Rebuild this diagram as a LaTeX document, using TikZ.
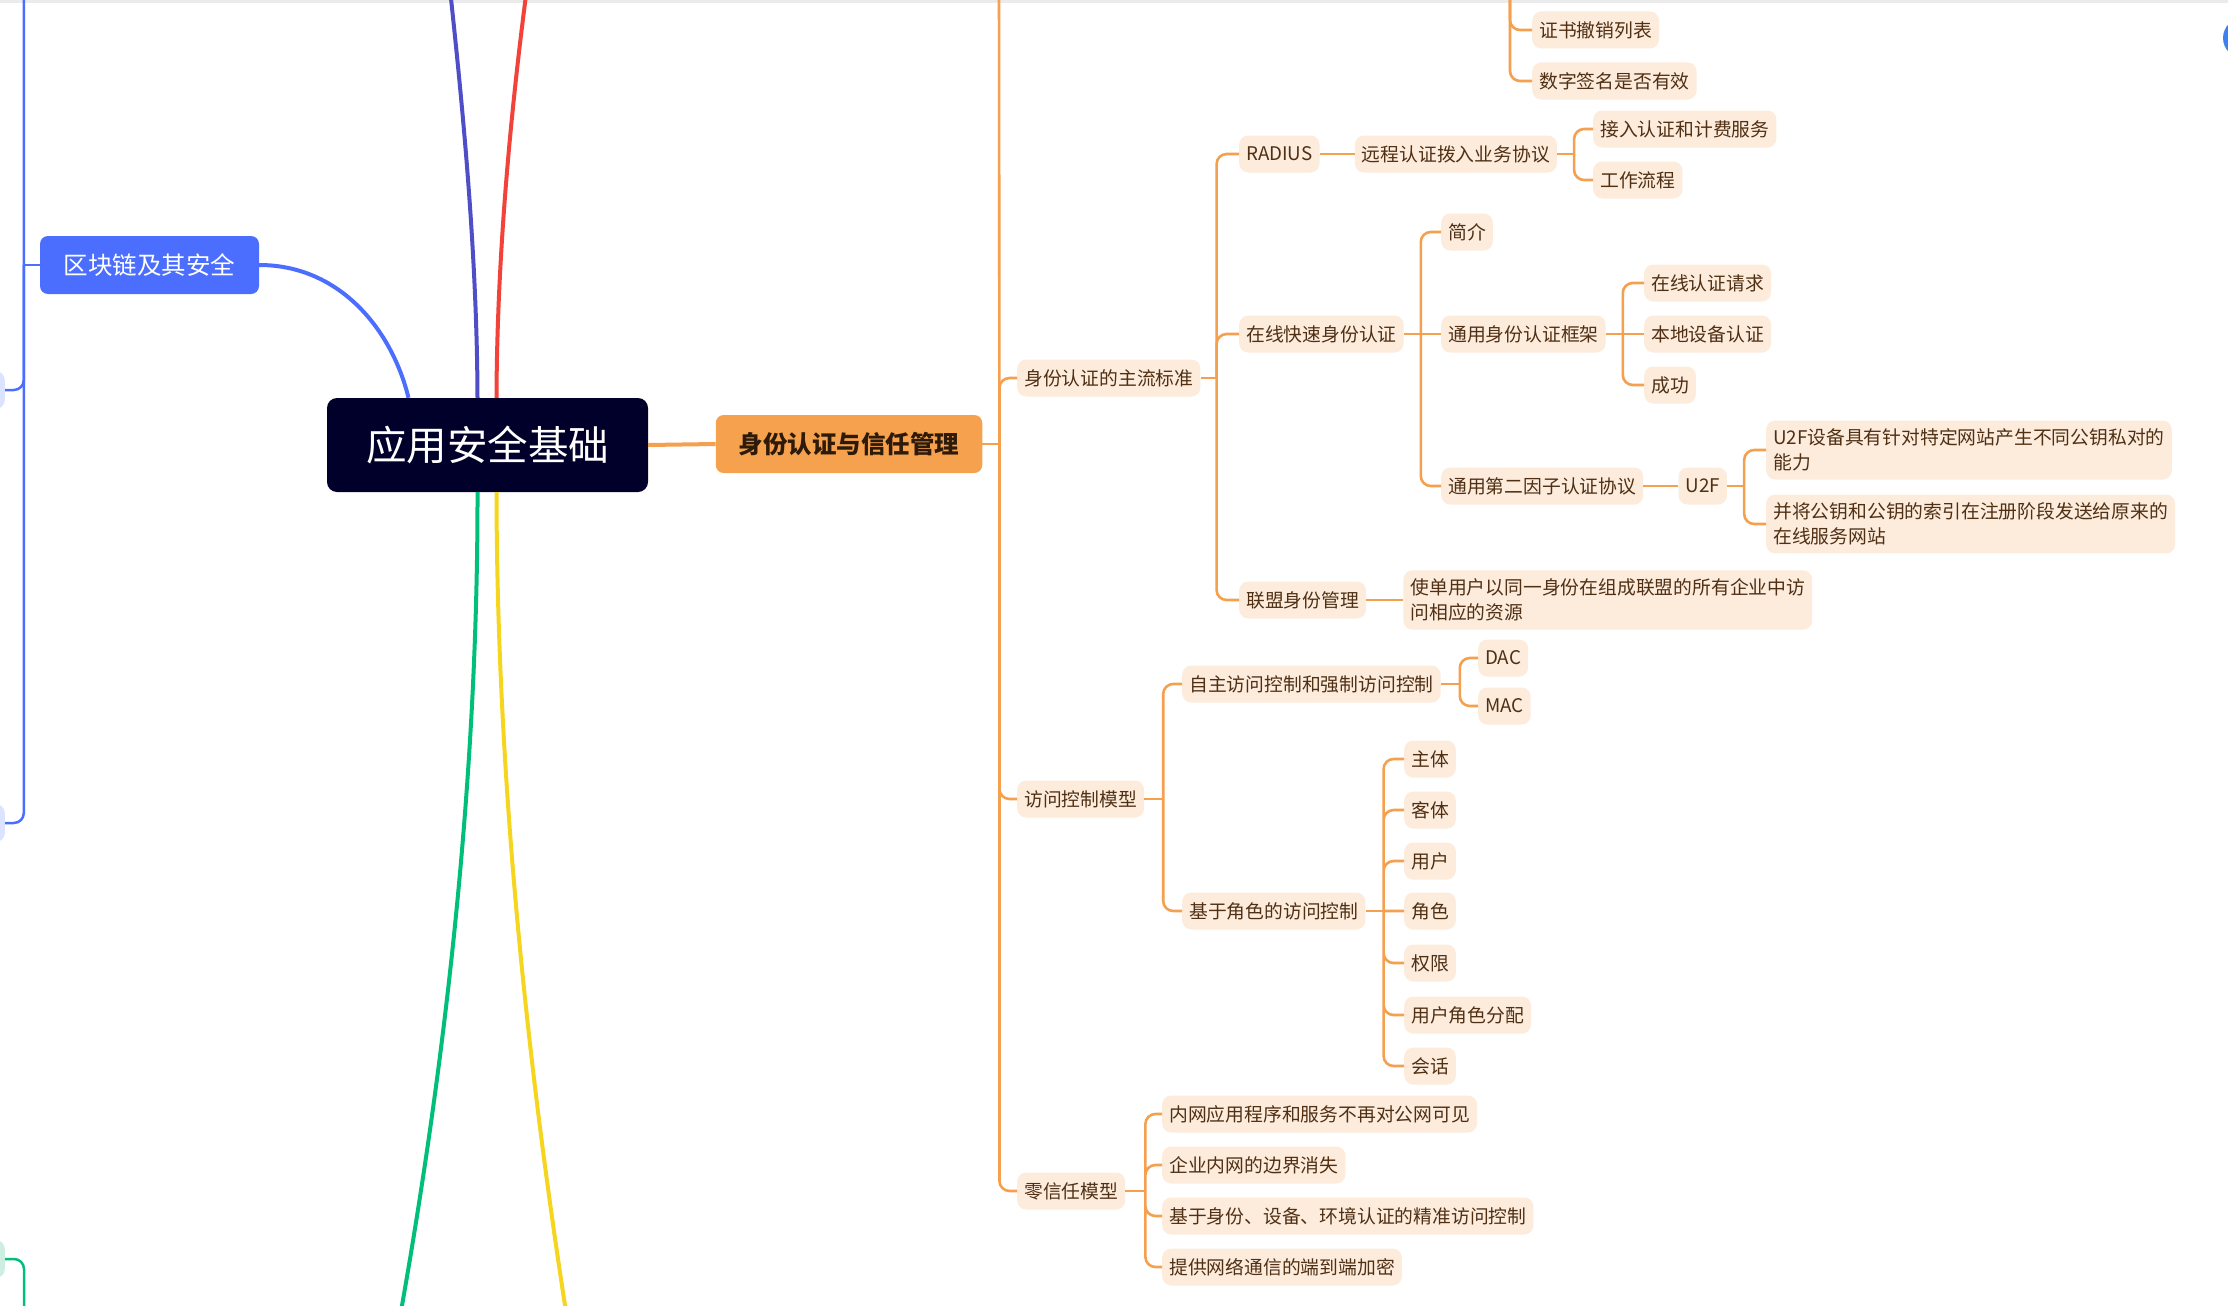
\documentclass[tikz,border=0pt]{standalone}
\usepackage{fontspec}
\setmainfont{Noto Sans CJK SC}
\usepackage{xcolor}
\usetikzlibrary{positioning}

\definecolor{rootbg}{HTML}{00002A}
\definecolor{chaintopic}{HTML}{4C6EFE}
\definecolor{idtopic}{HTML}{F6A14E}
\definecolor{idtext}{HTML}{2D1A08}
\definecolor{peach}{HTML}{FDEBDC}
\definecolor{subtext}{HTML}{4F3015}
\definecolor{oline}{HTML}{F5A04F}
\definecolor{lineindigo}{HTML}{4E4EC6}
\definecolor{linered}{HTML}{F2423A}
\definecolor{linegreen}{HTML}{00BF7A}
\definecolor{lineyellow}{HTML}{F6D51F}
\definecolor{lineblue}{HTML}{4C6EFE}
\definecolor{ghostblue}{HTML}{DCE3FF}
\definecolor{ghostgreen}{HTML}{CDEFE2}
\definecolor{dotblue}{HTML}{3F80F0}

\begin{document}
\begin{tikzpicture}[
  x=1pt, y=-1pt,
  root/.style={fill=rootbg, text=white, rounded corners=10pt, minimum width=321pt, minimum height=94pt, font=\fontsize{40.5}{48}\selectfont},
  topic/.style={rounded corners=8pt, inner xsep=23pt, minimum height=58pt, font=\fontsize{24.5}{30}\selectfont},
  sub/.style={fill=peach, text=subtext, rounded corners=9pt, inner xsep=7pt, inner ysep=8pt, minimum height=37pt, anchor=west, align=left, font=\fontsize{18.8}{25.5}\selectfont},
  ghost/.style={rounded corners=9pt, minimum width=60pt, minimum height=38pt, anchor=east},
  branch/.style={draw=oline, line width=2.6pt, rounded corners=10pt},
  curve/.style={line width=4pt},
  side/.style={line width=2.5pt, rounded corners=10pt}
]
\useasboundingbox (0,0) rectangle (2228,1306);
\clip (0,0) rectangle (2228,1306);
\fill[black!8] (0,0) rectangle (2228,3);
\fill[dotblue] (2243,38) circle (20);

% central topic and main topics
\node[root] (root) at (487.5,445) {应用安全基础};
\node[topic, fill=chaintopic, text=white, minimum width=219pt] (chain) at (149.5,265) {区块链及其安全};
\node[topic, fill=idtopic, text=idtext, minimum width=266pt, font=\fontsize{24.5}{30}\selectfont\bfseries] (idtrust) at (849,444) {身份认证与信任管理};

% topics that lie outside the view
\coordinate (indigoEnd) at (449,-20);
\coordinate (redEnd) at (528,-20);
\coordinate (greenEnd) at (394,1350);
\coordinate (yellowEnd) at (572,1350);
\node[ghost, fill=ghostblue] (b1) at (5,390) {};
\node[ghost, fill=ghostblue] (b2) at (5,823) {};
\node[ghost, fill=ghostgreen] (g1) at (5,1259) {};

\draw[curve, draw=lineindigo] ([xshift=-10pt]root.north) .. controls (477,250) and (462,100) .. (indigoEnd);
\draw[curve, draw=linered] ([xshift=9pt]root.north) .. controls (497,250) and (512,100) .. (redEnd);
\draw[curve, draw=linegreen] ([xshift=-10pt]root.south) .. controls (478,800) and (440,1100) .. (greenEnd);
\draw[curve, draw=lineyellow] ([xshift=9pt]root.south) .. controls (497,800) and (532,1100) .. (yellowEnd);
\draw[curve, draw=lineblue] (chain.east) .. controls (340,265) and (392,330) .. ([xshift=-79pt]root.north);
\draw[curve, draw=oline] (root.east) -- (idtrust.west);

% left side
\draw[side, draw=lineblue] (chain.west) -- ++(-16,0) coordinate (chainJ);
\coordinate (chainUp) at (24,-20);
\draw[side, draw=lineblue] (chainJ) -- (chainUp);
\draw[side, draw=lineblue] (chainJ) |- (b1.east);
\draw[side, draw=lineblue] (chainJ) |- (b2.east);
\coordinate (greenDown) at (24,1340);
\draw[side, draw=linegreen] (g1.east) -| (greenDown);

% identity and trust
\node[sub] (crl) at (1532,30) {证书撤销列表};
\node[sub] (sig) at (1532,81) {数字签名是否有效};
\node[sub] (std) at (1017,378) {身份认证的主流标准};
\node[sub] (acm) at (1017,799) {访问控制模型};
\node[sub] (zt) at (1017,1191) {零信任模型};

\node[sub] (radius) at (1239,154) {RADIUS};
\node[sub, right=35pt of radius] (rap) {远程认证拨入业务协议};
\node[sub] (aaa) at (1593,129) {接入认证和计费服务};
\node[sub] (flow) at (1593,180) {工作流程};
\node[sub] (fido) at (1239,334) {在线快速身份认证};
\node[sub] (intro) at (1441,232) {简介};
\node[sub] (uaf) at (1441,334) {通用身份认证框架};
\node[sub] (req) at (1644,283) {在线认证请求};
\node[sub] (local) at (1644,334) {本地设备认证};
\node[sub] (done) at (1644,385) {成功};
\node[sub] (utf) at (1441,486) {通用第二因子认证协议};
\node[sub, right=35pt of utf] (u2f) {U2F};
\node[sub] (keypair) at (1766,450) {U2F设备具有针对特定网站产生不同公钥私对的\\能力};
\node[sub] (keyreg) at (1766,524) {并将公钥和公钥的索引在注册阶段发送给原来的\\在线服务网站};
\node[sub] (fed) at (1239,600) {联盟身份管理};
\node[sub, right=37pt of fed] (feddesc) {使单用户以同一身份在组成联盟的所有企业中访\\问相应的资源};

\node[sub] (dacmac) at (1182,684) {自主访问控制和强制访问控制};
\node[sub] (dac) at (1478,658) {DAC};
\node[sub] (mac) at (1478,706) {MAC};
\node[sub] (rbac) at (1182,911) {基于角色的访问控制};
\node[sub] (subj) at (1404,759) {主体};
\node[sub] (obj) at (1404,810) {客体};
\node[sub] (user) at (1404,861) {用户};
\node[sub] (role) at (1404,911) {角色};
\node[sub] (perm) at (1404,963) {权限};
\node[sub] (ura) at (1404,1015) {用户角色分配};
\node[sub] (sess) at (1404,1066) {会话};

\node[sub] (zt1) at (1162,1114) {内网应用程序和服务不再对公网可见};
\node[sub] (zt2) at (1162,1165) {企业内网的边界消失};
\node[sub] (zt3) at (1162,1216) {基于身份、设备、环境认证的精准访问控制};
\node[sub] (zt4) at (1162,1267) {提供网络通信的端到端加密};

% connectors
\draw[branch] (idtrust.east) -- ++(17,0) coordinate (idJ);
\coordinate (idUp) at (999,-20);
\draw[branch] (idJ) -- (idUp);
\draw[branch] (idJ) |- (std.west);
\draw[branch] (idJ) |- (acm.west);
\draw[branch] (idJ) |- (zt.west);
\coordinate (certUp) at (1510,-20);
\draw[branch] (certUp) |- (crl.west);
\draw[branch] (certUp) |- (sig.west);

\draw[branch] (std.east) -- ++(16,0) coordinate (stdJ);
\draw[branch] (stdJ) |- (radius.west);
\draw[branch] (stdJ) |- (fido.west);
\draw[branch] (stdJ) |- (fed.west);
\draw[branch] (radius) -- (rap);
\draw[branch] (rap.east) -- ++(17,0) coordinate (rapJ);
\draw[branch] (rapJ) |- (aaa.west);
\draw[branch] (rapJ) |- (flow.west);
\draw[branch] (fido.east) -- ++(17,0) coordinate (fidoJ);
\draw[branch] (fidoJ) |- (intro.west);
\draw[branch] (fidoJ) -- (uaf.west);
\draw[branch] (fidoJ) |- (utf.west);
\draw[branch] (uaf.east) -- ++(17,0) coordinate (uafJ);
\draw[branch] (uafJ) |- (req.west);
\draw[branch] (uafJ) -- (local.west);
\draw[branch] (uafJ) |- (done.west);
\draw[branch] (utf) -- (u2f);
\draw[branch] (u2f.east) -- ++(17,0) coordinate (u2fJ);
\draw[branch] (u2fJ) |- (keypair.west);
\draw[branch] (u2fJ) |- (keyreg.west);
\draw[branch] (fed) -- (feddesc);

\draw[branch] (acm.east) -- ++(19,0) coordinate (acmJ);
\draw[branch] (acmJ) |- (dacmac.west);
\draw[branch] (acmJ) |- (rbac.west);
\draw[branch] (dacmac.east) -- ++(19,0) coordinate (dmJ);
\draw[branch] (dmJ) |- (dac.west);
\draw[branch] (dmJ) |- (mac.west);
\draw[branch] (rbac.east) -- ++(18,0) coordinate (rbacJ);
\draw[branch] (rbacJ) |- (subj.west) (rbacJ) |- (obj.west) (rbacJ) |- (user.west) (rbacJ) -- (role.west);
\draw[branch] (rbacJ) |- (perm.west) (rbacJ) |- (ura.west) (rbacJ) |- (sess.west);

\draw[branch] (zt.east) -- ++(20,0) coordinate (ztJ);
\draw[branch] (ztJ) |- (zt1.west) (ztJ) |- (zt2.west) (ztJ) |- (zt3.west) (ztJ) |- (zt4.west);
\end{tikzpicture}
\end{document}
